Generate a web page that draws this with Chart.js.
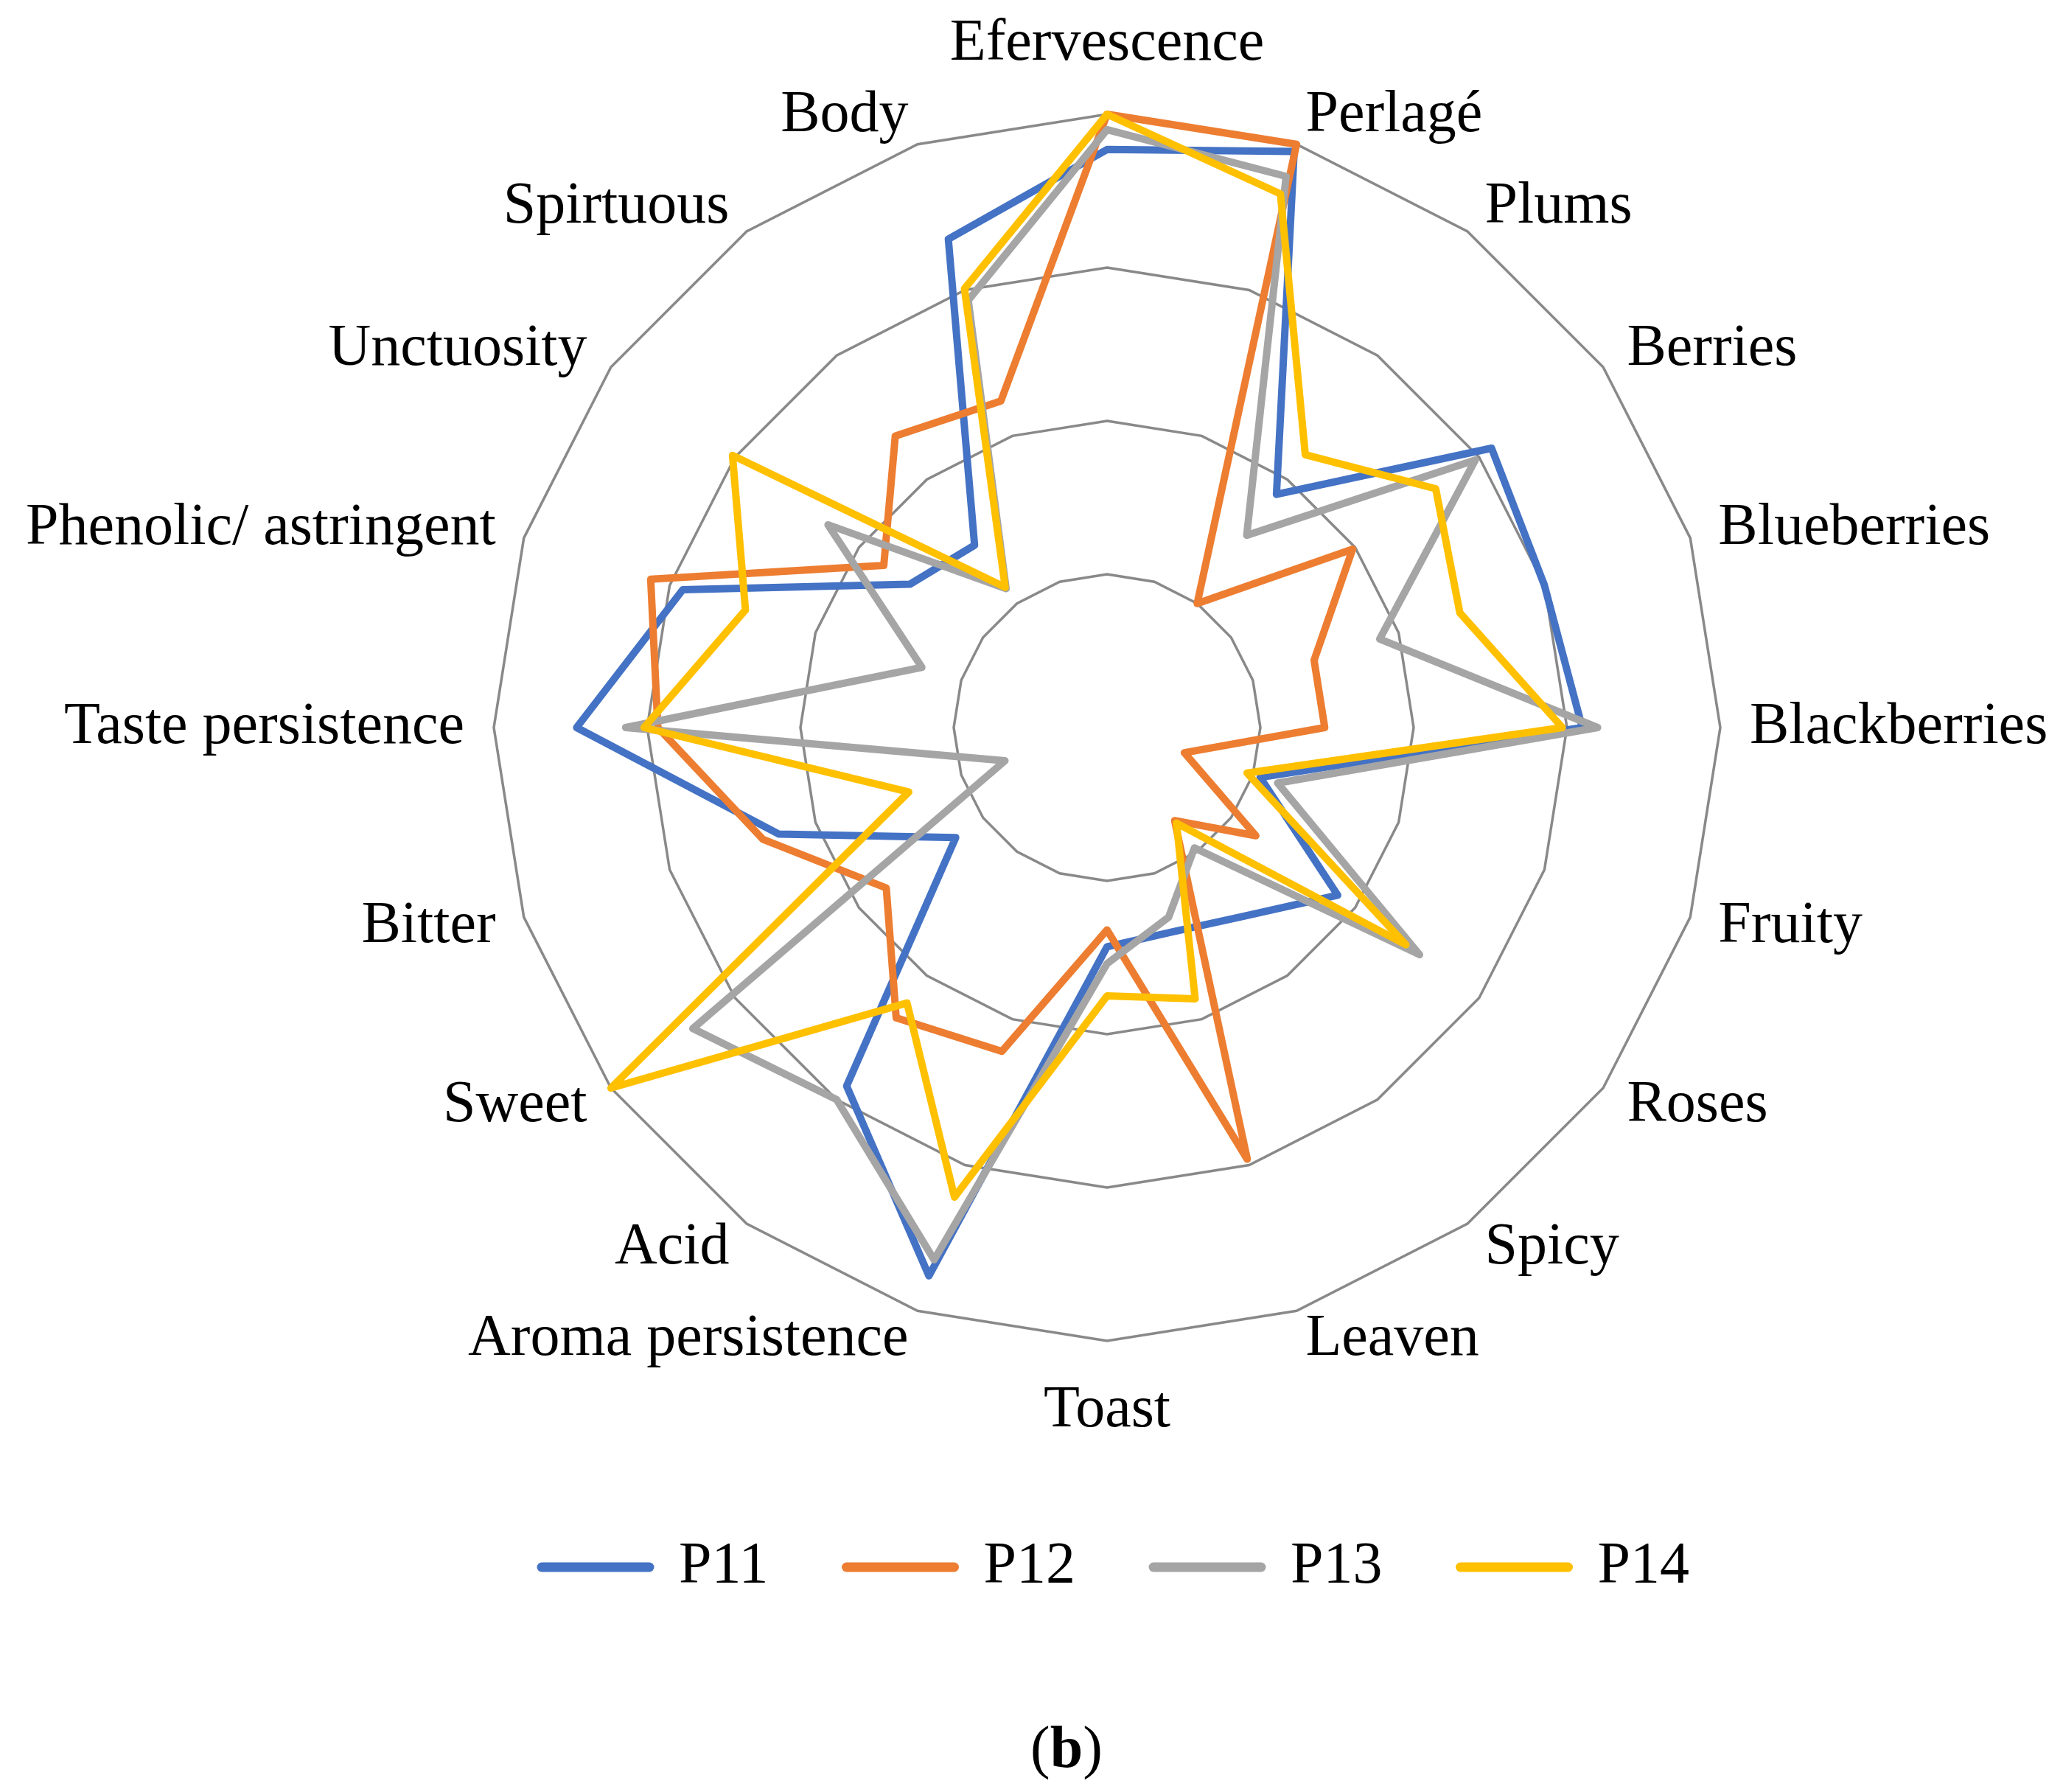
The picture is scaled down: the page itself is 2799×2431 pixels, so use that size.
<!DOCTYPE html>
<html>
<head>
<meta charset="utf-8">
<script src="https://cdn.jsdelivr.net/npm/chart.js@4/dist/chart.umd.min.js"></script>
<style>
html, body { margin: 0; padding: 0; background: #ffffff; overflow: hidden; width: 2799px; height: 2431px; }
#wrap { position: absolute; left: 0; top: 0; width: 3027px; height: 2431px; }
#cap { position: absolute; left: 1347px; top: 2322px; width: 200px; text-align: center;
       font-family: 'Liberation Serif', 'Times New Roman', serif; font-size: 80px; line-height: 96px; color: #000; }
</style>
</head>
<body>
<div id="wrap"><canvas id="c" width="3027" height="2431"></canvas></div>
<div id="cap">(<b>b</b>)</div>
<script>
// ---- data ----
const categories = ['Efervescence', 'Perlagé', 'Plums', 'Berries', 'Blueberries', 'Blackberries',
  'Fruity', 'Roses', 'Spicy', 'Leaven', 'Toast', 'Aroma persistence', 'Acid', 'Sweet', 'Bitter',
  'Taste persistence', 'Phenolic/ astringent', 'Unctuosity', 'Spirtuous', 'Body'];
const seriesNames = ['P11', 'P12', 'P13', 'P14'];
const p11 = [3.77, 3.95, 1.88, 3.10, 3.00, 3.10, 1.05, 1.86, 1.52, 1.40, 1.43, 3.76, 2.89, 1.22, 2.25, 3.46, 2.91, 1.59, 1.47, 3.35];
const p12 = [4.00, 4.00, 1.00, 1.98, 1.42, 1.42, 0.53, 1.20, 0.75, 2.96, 1.32, 2.22, 2.34, 1.78, 2.36, 2.93, 3.13, 1.80, 2.35, 2.24];
const p13 = [3.90, 3.78, 1.55, 2.97, 1.87, 3.20, 1.17, 2.52, 0.97, 1.30, 1.54, 3.65, 3.00, 3.34, 0.70, 3.14, 1.27, 2.25, 1.12, 2.93];
const p14 = [4.00, 3.66, 2.20, 2.65, 2.42, 2.97, 0.96, 2.41, 0.77, 1.86, 1.75, 3.22, 2.22, 4.00, 1.36, 3.02, 2.48, 3.02, 1.13, 3.01];
const axisMin = 0, axisMax = 4, axisStep = 1;

// ---- styling ----
const FONT = "'Liberation Serif', 'Times New Roman', serif";
const colors = ['#4472C4', '#ED7D31', '#A5A5A5', '#FFC000'];
const values = [p11, p12, p13, p14];

const datasets = values.map((d, i) => ({
  label: seriesNames[i],
  data: d,
  borderColor: colors[i],
  backgroundColor: colors[i],
  borderWidth: 10,
  borderJoinStyle: 'round',
  borderCapStyle: 'round',
  fill: false,
  tension: 0,
  pointRadius: 0,
  pointHoverRadius: 0,
  pointHitRadius: 0,
  order: values.length - i
}));

new Chart(document.getElementById('c'), {
  type: 'radar',
  data: { labels: categories, datasets: datasets },
  options: {
    responsive: false,
    animation: false,
    events: [],
    layout: { padding: { left: 0, right: 0, top: 0, bottom: 255 } },
    scales: {
      r: {
        min: axisMin,
        max: axisMax,
        ticks: { display: false, stepSize: axisStep },
        grid: { color: '#898989', lineWidth: 3.5 },
        angleLines: { display: false },
        pointLabels: {
          color: '#000000',
          font: { family: FONT, size: 80, lineHeight: 0.01 },
          padding: (ctx) => (ctx.index === 0 || ctx.index === 10) ? 95 : 40
        },
        afterSetDimensions: (s) => { s.xCenter = 1502; s.yCenter = 987; s.drawingArea = 832; }
      }
    },
    plugins: {
      tooltip: { enabled: false },
      legend: {
        position: 'bottom',
        labels: {
          usePointStyle: true,
          pointStyle: 'line',
          pointStyleWidth: 146,
          padding: 106,
          color: '#000000',
          font: { family: FONT, size: 80 },
          sort: (a, b) => a.datasetIndex - b.datasetIndex,
          generateLabels: (chart) => Chart.defaults.plugins.legend.labels.generateLabels(chart).map((it) =>
            Object.assign(it, { lineWidth: 13, lineCap: 'round', strokeStyle: colors[it.datasetIndex], fillStyle: colors[it.datasetIndex] }))
        }
      }
    }
  }
});
</script>
</body>
</html>
